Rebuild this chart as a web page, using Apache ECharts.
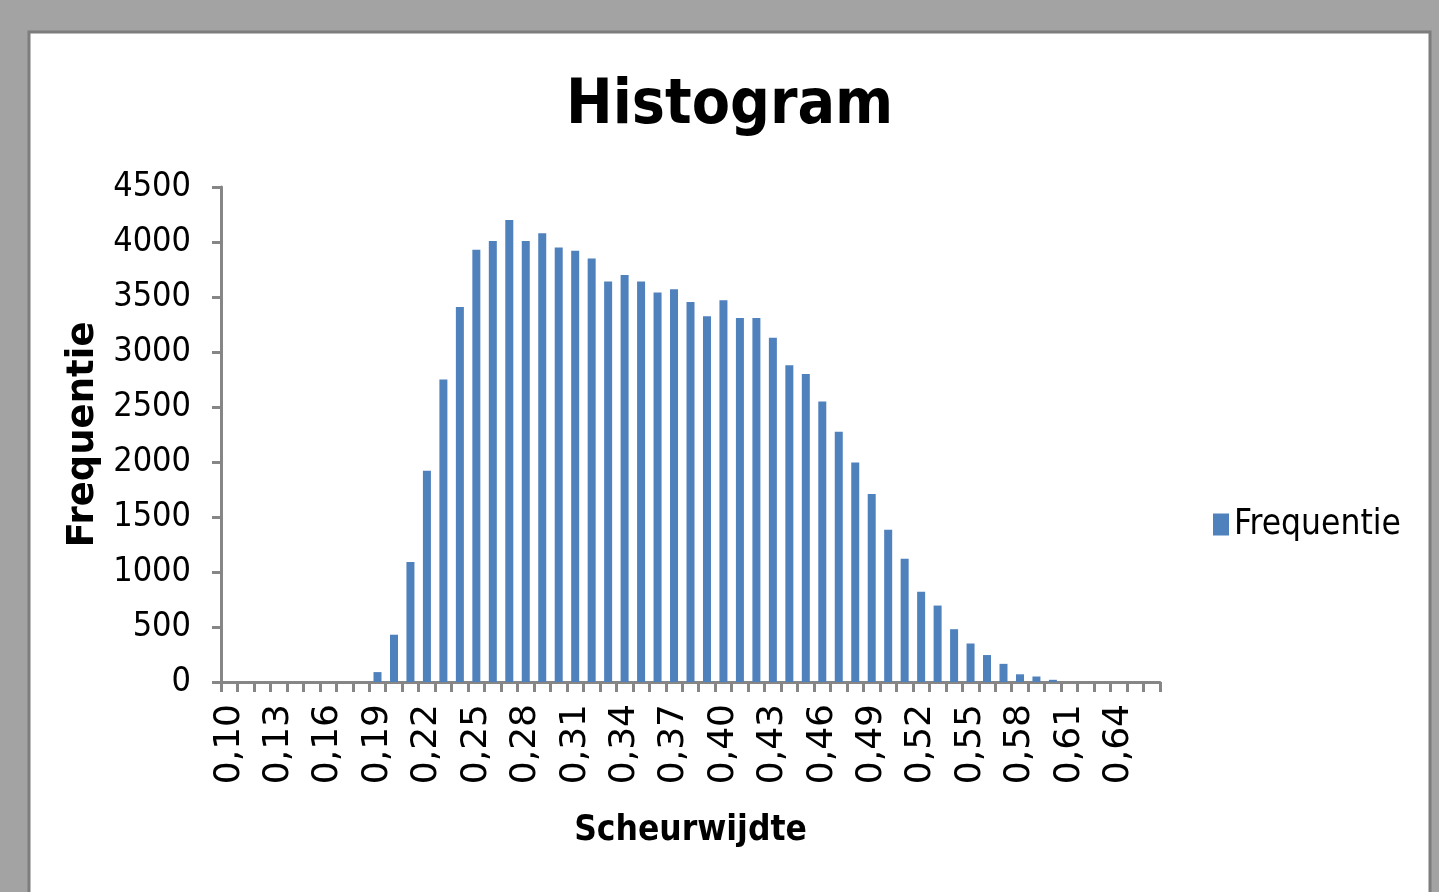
<!DOCTYPE html>
<html>
<head>
<meta charset="utf-8">
<title>Histogram</title>
<script src="https://cdn.jsdelivr.net/npm/echarts@6/dist/echarts.min.js"></script>
<style>
    html, body { margin: 0; padding: 0; background: #a3a3a3; }
    #chart { width: 1439px; height: 892px; }
</style>
</head>
<body>
<div id="chart"></div>
<script>
const FONT = "'DejaVu Sans Condensed', 'DejaVu Sans', sans-serif";
const FONT_WIDE = "'DejaVu Sans', sans-serif";

// scheurwijdte klassen 0,10 .. 0,66
const categories = [
    '0,10', '0,11', '0,12', '0,13', '0,14', '0,15', '0,16', '0,17', '0,18', '0,19',
    '0,20', '0,21', '0,22', '0,23', '0,24', '0,25', '0,26', '0,27', '0,28', '0,29',
    '0,30', '0,31', '0,32', '0,33', '0,34', '0,35', '0,36', '0,37', '0,38', '0,39',
    '0,40', '0,41', '0,42', '0,43', '0,44', '0,45', '0,46', '0,47', '0,48', '0,49',
    '0,50', '0,51', '0,52', '0,53', '0,54', '0,55', '0,56', '0,57', '0,58', '0,59',
    '0,60', '0,61', '0,62', '0,63', '0,64', '0,65', '0,66',
];

const frequentie = [
    0, 0, 0, 0, 0, 0, 0, 0, 0, 90,
    430, 1090, 1920, 2750, 3410, 3930, 4010, 4200, 4010, 4080,
    3950, 3920, 3850, 3640, 3700, 3640, 3540, 3570, 3455, 3325,
    3470, 3310, 3310, 3130, 2880, 2800, 2550, 2275, 1995, 1710,
    1385, 1120, 820, 695, 480, 350, 245, 165, 70, 50,
    20, 0, 0, 0, 0, 0, 0,
];

const yTicks = { min: 0, max: 4500, interval: 500 };

const axisColor = '#868686';
const barColor = '#4f81bd';

const myChart = echarts.init(document.getElementById('chart'));

const option = {
    backgroundColor: '#a3a3a3',
    textStyle: { fontFamily: FONT },
    graphic: [
        {
            type: 'rect',
            z: -10,
            silent: true,
            shape: { x: 29, y: 32, width: 1401, height: 880 },
            style: { fill: '#ffffff', stroke: '#7d7d7d', lineWidth: 3 },
        },
    ],
    title: {
        text: 'Histogram',
        left: 561,
        top: 71,
        textStyle: {
            fontFamily: FONT,
            fontSize: 62,
            fontWeight: 'bold',
            color: '#000000',
        },
    },
    legend: {
        left: 1208,
        top: 502,
        icon: 'rect',
        itemWidth: 16,
        itemHeight: 22,
        itemGap: 8,
        data: ['Frequentie'],
        textStyle: {
            fontFamily: FONT,
            fontSize: 35,
            color: '#000000',
        },
    },
    grid: {
        left: 221,
        right: 279,
        top: 187,
        bottom: 210,
        containLabel: false,
    },
    xAxis: {
        type: 'category',
        data: categories,
        boundaryGap: true,
        name: 'Scheurwijdte',
        nameLocation: 'middle',
        nameGap: 131,
        nameTextStyle: {
            fontFamily: FONT,
            fontSize: 35,
            fontWeight: 'bold',
            color: '#000000',
        },
        axisLine: {
            lineStyle: { color: axisColor, width: 3 },
        },
        axisTick: {
            show: true,
            interval: 0,
            length: 10,
            lineStyle: { color: axisColor, width: 3 },
        },
        axisLabel: {
            interval: 2,
            rotate: 90,
            margin: 22,
            fontFamily: FONT_WIDE,
            fontSize: 36,
            color: '#000000',
        },
        splitLine: { show: false },
    },
    yAxis: {
        type: 'value',
        min: yTicks.min,
        max: yTicks.max,
        interval: yTicks.interval,
        name: 'Frequentie',
        nameLocation: 'middle',
        nameGap: 110,
        nameTextStyle: {
            fontFamily: FONT_WIDE,
            fontSize: 37,
            fontWeight: 'bold',
            color: '#000000',
        },
        axisLine: {
            show: true,
            lineStyle: { color: axisColor, width: 3 },
        },
        axisTick: {
            show: true,
            length: 9,
            lineStyle: { color: axisColor, width: 3 },
        },
        axisLabel: {
            margin: 30,
            fontFamily: FONT,
            fontSize: 34,
            color: '#000000',
            padding: [4, 0, 0, 0],
            formatter: value => String(value),
        },
        splitLine: { show: false },
    },
    series: [
        {
            name: 'Frequentie',
            type: 'bar',
            barWidth: 8,
            itemStyle: { color: barColor },
            data: frequentie,
        },
    ],
};

myChart.setOption(option);
</script>
</body>
</html>
